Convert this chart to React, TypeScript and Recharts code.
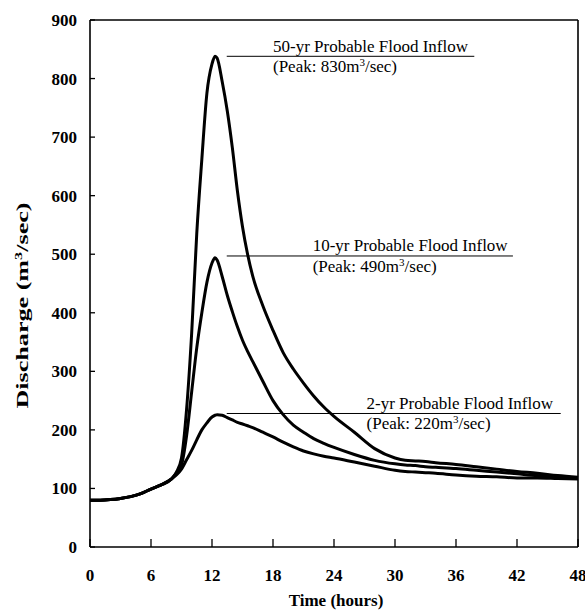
import { Line, LineChart, ReferenceDot, ReferenceLine, XAxis, YAxis } from 'recharts';

const hours = [0, 1, 2, 3, 4, 5, 6, 7, 8, 8.5, 9, 9.5, 10, 10.5, 11, 11.5, 12, 12.3, 12.5, 13, 13.5, 14, 14.5, 15, 15.5, 16, 17, 18, 19, 20, 21, 22, 23, 24, 26, 28, 30, 31, 32, 33, 34, 36, 38, 40, 42, 44, 46, 48];

const flow2yr = [80, 80, 81, 83, 86, 91, 99, 106, 116, 123, 133, 149, 165, 183, 200, 212, 222, 225, 226, 225, 221, 217, 213, 210, 207, 204, 196, 188, 179, 171, 164, 159, 155, 152, 145, 138, 131, 129, 128, 127, 126, 123, 121, 120, 118, 118, 117, 116];

const flow10yr = [80, 80, 81, 83, 86, 91, 99, 106, 116, 126, 140, 190, 265, 340, 400, 452, 485, 494, 490, 462, 430, 402, 376, 353, 334, 317, 283, 250, 226, 208, 196, 185, 177, 170, 158, 148, 142, 140, 139, 137, 136, 134, 131, 128, 125, 122, 120, 118];

const flow50yr = [80, 80, 81, 83, 86, 91, 99, 106, 116, 128, 152, 235, 365, 535, 662, 775, 825, 838, 835, 795, 745, 682, 608, 547, 500, 463, 412, 370, 332, 304, 280, 258, 239, 223, 196, 168, 152, 148, 147, 146, 144, 141, 137, 133, 129, 126, 122, 119];

const xTicks = [0, 6, 12, 18, 24, 30, 36, 42, 48];
const yTicks = [0, 100, 200, 300, 400, 500, 600, 700, 800, 900];

// annotation text + leader line (hours / discharge units)
const notes = [
  { title: '50-yr Probable Flood Inflow', peak: '830', level: 838, from: 13.45, to: 37.8, textAt: 18.0 },
  { title: '10-yr Probable Flood Inflow', peak: '490', level: 497, from: 13.45, to: 41.6, textAt: 21.9 },
  { title: '2-yr Probable Flood Inflow', peak: '220', level: 228, from: 13.45, to: 46.3, textAt: 27.2 },
];

const data = hours.map((h, i) => ({
  hour: h,
  q2: flow2yr[i],
  q10: flow10yr[i],
  q50: flow50yr[i],
}));

const SERIF = '"Liberation Serif", "Times New Roman", Times, serif';

const XTick = ({ x, y, payload }: any) => (
  <g>
    <line x1={x} y1={y} x2={x} y2={y - 8} stroke="#000" strokeWidth={1.3} />
    <text x={x} y={y + 33.5} textAnchor="middle" fontFamily={SERIF} fontWeight="bold" fontSize={17} fill="#000">
      {payload.value}
    </text>
  </g>
);

const YTick = ({ x, y, payload }: any) => (
  <g>
    <line x1={x} y1={y} x2={x + 5} y2={y} stroke="#000" strokeWidth={1.3} />
    <text x={x - 13} y={y + 6} textAnchor="end" fontFamily={SERIF} fontWeight="bold" fontSize={17} fill="#000">
      {payload.value}
    </text>
  </g>
);

const YTitle = ({ viewBox }: any) => {
  const tx = viewBox.x + 28;
  const ty = viewBox.y + viewBox.height / 2 + 22;
  return (
    <text
      transform={`translate(${tx},${ty}) rotate(-90)`}
      textAnchor="middle"
      fontFamily={SERIF}
      fontWeight="bold"
      fontSize={16}
      fill="#000"
      textLength={206}
      lengthAdjust="spacingAndGlyphs"
    >
      Discharge (m<tspan fontSize={10} dy={-6}>3</tspan><tspan dy={6}>/sec)</tspan>
    </text>
  );
};

const XTitle = ({ viewBox }: any) => (
  <text
    x={viewBox.x + viewBox.width / 2 + 2}
    y={606}
    textAnchor="middle"
    fontFamily={SERIF}
    fontWeight="bold"
    fontSize={17}
    fill="#000"
  >
    Time (hours)
  </text>
);

const NoteText = ({ viewBox, note }: any) => (
  <g fill="#000">
    <text x={viewBox.x} y={viewBox.y - 4.5} fontFamily={SERIF} fontSize={17}>{note.title}</text>
    <text x={viewBox.x} y={viewBox.y + 16} fontFamily={SERIF} fontSize={17}>
      (Peak: {note.peak}m<tspan fontSize={11} dy={-6}>3</tspan><tspan dy={6}>/sec)</tspan>
    </text>
  </g>
);

const App = () => {
  return (
    <div style={{ position: 'absolute', left: 0, top: 0 }}>
      <LineChart width={585} height={610} data={data} margin={{ top: 20, right: 7, left: 0, bottom: 13 }}>
        <XAxis
          type="number"
          dataKey="hour"
          domain={[0, 48]}
          ticks={xTicks}
          interval={0}
          height={50}
          tickSize={0}
          tickMargin={0}
          tick={<XTick />}
          axisLine={{ stroke: '#000', strokeWidth: 1.6 }}
          label={<XTitle />}
        />
        <YAxis
          type="number"
          domain={[0, 900]}
          ticks={yTicks}
          interval={0}
          width={90}
          tickSize={0}
          tickMargin={0}
          tick={<YTick />}
          axisLine={{ stroke: '#000', strokeWidth: 1.6 }}
          label={<YTitle />}
        />
        <ReferenceLine y={900} stroke="#000" strokeWidth={1.6} />
        <ReferenceLine x={48} stroke="#000" strokeWidth={1.6} />
        {notes.map((n) => (
          <ReferenceLine
            key={n.title}
            segment={[{ x: n.from, y: n.level }, { x: n.to, y: n.level }]}
            stroke="#000"
            strokeWidth={1}
          />
        ))}
        {notes.map((n) => (
          <ReferenceDot
            key={'t' + n.title}
            x={n.textAt}
            y={n.level}
            r={0}
            fill="none"
            stroke="none"
            label={<NoteText note={n} />}
          />
        ))}
        <Line type="monotone" dataKey="q2" stroke="#000" strokeWidth={3} dot={false} isAnimationActive={false} />
        <Line type="monotone" dataKey="q10" stroke="#000" strokeWidth={3} dot={false} isAnimationActive={false} />
        <Line type="monotone" dataKey="q50" stroke="#000" strokeWidth={3} dot={false} isAnimationActive={false} />
      </LineChart>
    </div>
  );
};

export default App;
